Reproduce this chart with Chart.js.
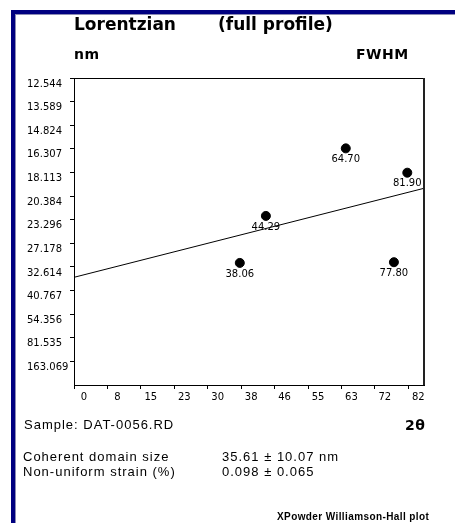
<!DOCTYPE html>
<html>
<head>
<meta charset="utf-8">
<title>Williamson-Hall plot</title>
<script src="https://cdn.jsdelivr.net/npm/chart.js@4.4.1/dist/chart.umd.min.js"></script>
<style>
  html, body { margin: 0; padding: 0; background: #fff; }
  #page { position: relative; width: 455px; height: 523px; overflow: hidden; background: #fff; }
  #frame {
    position: absolute; left: 11px; top: 10px; width: 460px; height: 530px;
    border-left: 4px solid #000080; border-top: 4px solid #000080;
  }
  #frame::after {
    content: ''; position: absolute; left: 0; top: 0; right: 0; bottom: 0;
    border-left: 1px solid #8c8cb4; border-top: 1px solid #8c8cb4;
  }
  #plot { position: absolute; left: 0; top: 0; }
  .t { position: absolute; white-space: nowrap; color: #000; }
  .title { font: bold 17px "DejaVu Sans"; line-height: 17px; }
  .unit { font: bold 14px "DejaVu Sans"; line-height: 14px; letter-spacing: 0.5px; }
  .txt { font: 13px "Liberation Sans"; line-height: 13px; letter-spacing: 1px; }
  .foot { font: bold 10px "Liberation Sans"; line-height: 10px; letter-spacing: 0.4px; }
</style>
</head>
<body>
<div id="page">
  <div id="frame"></div>
  <canvas id="plot" width="455" height="523"></canvas>

  <div class="t title" style="left:74px; top:16px;">Lorentzian</div>
  <div class="t title" style="left:218px; top:16px;">(full profile)</div>
  <div class="t unit" style="left:74px; top:47px;">nm</div>
  <div class="t unit" style="left:356px; top:47px;">FWHM</div>

  <div class="t txt" style="left:24px; top:418px;">Sample: DAT-0056.RD</div>
  <div class="t unit" style="left:405px; top:418px;">2θ</div>

  <div class="t txt" style="left:23px; top:450px;">Coherent domain size</div>
  <div class="t txt" style="left:23px; top:465px;">Non-uniform strain (%)</div>
  <div class="t txt" style="left:222px; top:450px;">35.61 ± 10.07 nm</div>
  <div class="t txt" style="left:222px; top:465px;">0.098 ± 0.065</div>

  <div class="t foot" style="left:277px; top:512px;">XPowder Williamson-Hall plot</div>
</div>

<script>
// x axis: evenly spaced steps in sin(theta), labelled with rounded 2-theta
const xTickLabels = ['0', '8', '15', '23', '30', '38', '46', '55', '63', '72', '82'];
// y axis: evenly spaced steps in FWHM, labelled as size in nm (bottom to top)
const yTickLabels = ['163.069', '81.535', '54.356', '40.767', '32.614', '27.178',
  '23.296', '20.384', '18.113', '16.307', '14.824', '13.589', '12.544'];

// peaks, in axis step units, with their 2-theta labels
const peakLabels = ['38.06', '44.29', '64.70', '77.80', '81.90'];
const peakX = [4.96, 5.74, 8.13, 9.57, 9.97];
const peakY = [5.17, 7.16, 10.02, 5.20, 8.99];

// fitted line, read at the two plot edges
const fitX = [0, 10.47];
const fitY = [4.56, 8.33];

const X_MAX = 10.47;
const Y_MAX = 13;

const tickFont = { family: 'DejaVu Sans', size: 10 };

// closes the plot box on the top and right
const boxFrame = {
  id: 'boxFrame',
  afterDraw(chart) {
    const { ctx, chartArea: a } = chart;
    ctx.save();
    ctx.strokeStyle = '#000';
    ctx.lineWidth = 1;
    ctx.beginPath();
    ctx.moveTo(a.left, a.top + 0.5);
    ctx.lineTo(a.right, a.top + 0.5);
    ctx.stroke();
    ctx.lineWidth = 2;
    ctx.strokeStyle = '#222';
    ctx.beginPath();
    ctx.moveTo(a.right, a.top);
    ctx.lineTo(a.right, a.bottom);
    ctx.stroke();
    ctx.restore();
  },
};

// 2-theta value written under each peak marker
const peakTags = {
  id: 'peakTags',
  afterDatasetsDraw(chart) {
    const { ctx } = chart;
    const meta = chart.getDatasetMeta(0);
    ctx.save();
    ctx.fillStyle = '#000';
    ctx.font = '10px "DejaVu Sans"';
    ctx.textAlign = 'center';
    ctx.textBaseline = 'middle';
    meta.data.forEach((pt, i) => {
      ctx.fillText(peakLabels[i], pt.x, pt.y + 11);
    });
    ctx.restore();
  },
};

new Chart(document.getElementById('plot'), {
  data: {
    datasets: [
      {
        type: 'scatter',
        data: peakX.map((x, i) => ({ x, y: peakY[i] })),
        backgroundColor: '#000',
        borderColor: '#000',
        pointRadius: 4.5,
        pointHoverRadius: 4.5,
      },
      {
        type: 'line',
        data: fitX.map((x, i) => ({ x, y: fitY[i] })),
        borderColor: '#000',
        borderWidth: 1,
        pointRadius: 0,
        fill: false,
      },
    ],
  },
  options: {
    responsive: false,
    animation: false,
    events: [],
    layout: { padding: { top: 78, right: 31, left: 27, bottom: 118 } },
    plugins: {
      legend: { display: false },
      tooltip: { enabled: false },
    },
    scales: {
      x: {
        type: 'linear',
        position: 'bottom',
        min: 0,
        max: X_MAX,
        afterBuildTicks(scale) {
          scale.ticks = xTickLabels.map((_, i) => ({ value: i }));
        },
        afterFit(scale) { scale.height = 20; },
        ticks: {
          autoSkip: false,
          maxRotation: 0,
          padding: 2,
          labelOffset: 10,
          color: '#000',
          font: tickFont,
          callback: (value, index) => xTickLabels[index],
        },
        grid: { drawOnChartArea: false, tickLength: 4, color: '#000' },
        border: { color: '#000', width: 1 },
      },
      y: {
        type: 'linear',
        position: 'left',
        min: 0,
        max: Y_MAX,
        afterBuildTicks(scale) {
          scale.ticks = yTickLabels.map((_, i) => ({ value: i + 1 }));
        },
        afterFit(scale) { scale.width = 47; },
        ticks: {
          autoSkip: false,
          crossAlign: 'far',
          padding: 2,
          labelOffset: 6,
          color: '#000',
          font: tickFont,
          callback: (value, index) => yTickLabels[index],
        },
        grid: { drawOnChartArea: false, tickLength: 4, color: '#000' },
        border: { color: '#000', width: 1 },
      },
    },
  },
  plugins: [boxFrame, peakTags],
});
</script>
</body>
</html>
